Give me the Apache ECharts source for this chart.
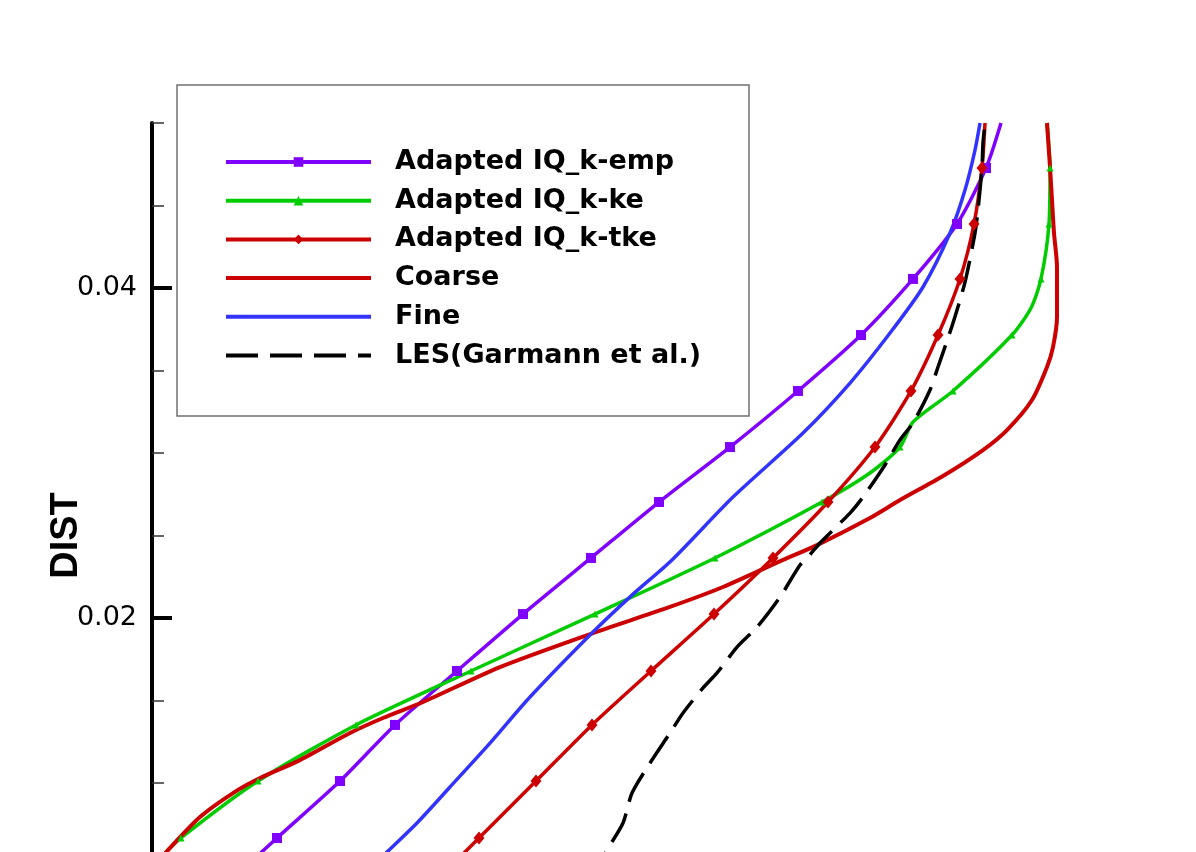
<!DOCTYPE html>
<html>
<head>
<meta charset="utf-8">
<script src="https://cdn.jsdelivr.net/npm/echarts@6/dist/echarts.min.js"></script>
<style>
  html, body { margin: 0; padding: 0; background: #fff; }
  #main { width: 1196px; height: 852px; }
</style>
</head>
<body>
<div id="main"></div>
<script>
// profile data: x = velocity (scaled), y = DIST
const empX = [0.079, 0.125, 0.188, 0.243, 0.305, 0.371, 0.439, 0.507, 0.578, 0.646, 0.709, 0.761, 0.805, 0.834, 0.849];
const empY = [0.00412, 0.00667, 0.01012, 0.01352, 0.01679, 0.02024, 0.02364, 0.02703, 0.03036, 0.03376, 0.03715, 0.04055, 0.04388, 0.04727, 0.05];

const keX = [0.006, 0.029, 0.106, 0.204, 0.319, 0.443, 0.563, 0.670, 0.718, 0.748, 0.761, 0.801, 0.860, 0.879, 0.889, 0.897, 0.898, 0.895];
const keY = [0.00533, 0.00667, 0.01012, 0.01352, 0.01679, 0.02024, 0.02364, 0.02703, 0.02879, 0.03036, 0.03188, 0.03376, 0.03715, 0.03879, 0.04055, 0.04388, 0.04727, 0.05];

const tkeX = [0.285, 0.327, 0.384, 0.440, 0.499, 0.562, 0.621, 0.676, 0.723, 0.759, 0.786, 0.808, 0.822, 0.830, 0.833];
const tkeY = [0.00412, 0.00667, 0.01012, 0.01352, 0.01679, 0.02024, 0.02364, 0.02703, 0.03036, 0.03376, 0.03715, 0.04055, 0.04388, 0.04727, 0.05];

const coarseX = [0.006, 0.016, 0.048, 0.081, 0.108, 0.148, 0.198, 0.231, 0.271, 0.348, 0.441, 0.515, 0.571, 0.631, 0.665, 0.718, 0.748, 0.791, 0.831, 0.855, 0.880, 0.895, 0.901, 0.905, 0.905, 0.902, 0.900, 0.898, 0.895];
const coarseY = [0.00521, 0.00594, 0.00794, 0.00939, 0.0103, 0.01139, 0.01303, 0.01394, 0.01491, 0.01703, 0.01909, 0.02061, 0.02188, 0.02352, 0.02442, 0.02606, 0.02715, 0.02861, 0.03018, 0.03139, 0.03321, 0.03521, 0.03642, 0.03824, 0.04127, 0.04333, 0.04533, 0.04733, 0.05];

const fineX = [0.206, 0.235, 0.265, 0.298, 0.338, 0.378, 0.441, 0.480, 0.520, 0.581, 0.651, 0.698, 0.738, 0.771, 0.798, 0.813, 0.823, 0.828];
const fineY = [0.00412, 0.00582, 0.00758, 0.00976, 0.01242, 0.01521, 0.01915, 0.02139, 0.02352, 0.02733, 0.03121, 0.03424, 0.03727, 0.04006, 0.04333, 0.04594, 0.04836, 0.05];

const lesX = [0.438, 0.455, 0.471, 0.480, 0.498, 0.518, 0.531, 0.551, 0.565, 0.585, 0.605, 0.628, 0.648, 0.656, 0.668, 0.698, 0.711, 0.731, 0.748, 0.761, 0.778, 0.786, 0.801, 0.813, 0.823, 0.826, 0.830, 0.831, 0.833];
const lesY = [0.00412, 0.00594, 0.00758, 0.00939, 0.01121, 0.01303, 0.01424, 0.01576, 0.01667, 0.01824, 0.01945, 0.02127, 0.02321, 0.0237, 0.02455, 0.02636, 0.02733, 0.02909, 0.03079, 0.03182, 0.03382, 0.03521, 0.03788, 0.04036, 0.04333, 0.04473, 0.04733, 0.04879, 0.05];

// DIST levels where the adapted profiles carry a symbol
const markerDist = [0.00667, 0.01012, 0.01352, 0.01679, 0.02024, 0.02364, 0.02703, 0.03036, 0.03376, 0.03715, 0.04055, 0.04388, 0.04727];

const majorTicks = [0.02, 0.04];
const minorTicks = [0.01, 0.015, 0.025, 0.03, 0.035, 0.045, 0.05];

const names = ['Adapted IQ_k-emp', 'Adapted IQ_k-ke', 'Adapted IQ_k-tke', 'Coarse', 'Fine', 'LES(Garmann et al.)'];
const plainLines = ['Coarse', 'Fine', 'LES(Garmann et al.)'];

const toPairs = (xs, ys, marked) => xs.map((x, i) => {
    const item = { value: [x, ys[i]] };
    if (!marked || markerDist.indexOf(ys[i]) < 0) item.symbol = 'none';
    return item;
});

var chartDom = document.getElementById('main');
var myChart = echarts.init(chartDom);
var option;

option = {
    animation: false,
    backgroundColor: '#fff',
    grid: { left: 152, right: 44, top: 123, bottom: 0 },
    graphic: [{
        type: 'rect',
        shape: { x: 177, y: 85, width: 572, height: 331 },
        style: { fill: 'none', stroke: '#707070', lineWidth: 1.5 },
        z: 1
    }],
    legend: {
        orient: 'vertical',
        left: 224,
        top: 148,
        padding: 0,
        itemWidth: 145,
        itemHeight: 12,
        itemGap: 10.7,
        selectedMode: false,
        lineStyle: { width: 4 },
        data: names.map(n => plainLines.indexOf(n) >= 0 ? { name: n, itemStyle: { opacity: 0 } } : n),
        textStyle: {
            fontFamily: 'DejaVu Sans',
            fontWeight: 'bold',
            fontSize: 27,
            lineHeight: 28,
            color: '#000',
            padding: [0, 0, 0, 19]
        }
    },
    xAxis: {
        type: 'value',
        min: 0,
        max: 1,
        show: false
    },
    yAxis: [{
        type: 'value',
        position: 'left',
        min: 0.00582,
        max: 0.05,
        name: 'DIST',
        nameLocation: 'middle',
        nameGap: 66,
        nameMoveOverlap: false,
        nameTextStyle: { fontFamily: 'Liberation Sans', fontWeight: 'bold', fontSize: 38, color: '#000', padding: [0, 96, 0, 0] },
        axisLine: { show: true, lineStyle: { color: '#000', width: 4 } },
        axisTick: { show: true, inside: true, length: 20, customValues: majorTicks, lineStyle: { color: '#000', width: 4 } },
        axisLabel: { show: true, margin: 15, customValues: majorTicks, fontFamily: 'DejaVu Sans', fontSize: 27, color: '#000' },
        splitLine: { show: false }
    }, {
        type: 'value',
        position: 'left',
        min: 0.00582,
        max: 0.05,
        axisLine: { show: false },
        axisTick: { show: true, inside: true, length: 12, customValues: minorTicks, lineStyle: { color: '#333', width: 1.5 } },
        axisLabel: { show: false },
        splitLine: { show: false }
    }],
    series: [
        {
            name: names[0], type: 'line', smooth: 0.25,
            data: toPairs(empX, empY, true),
            symbol: 'rect', symbolSize: 10,
            itemStyle: { color: '#8000ff' },
            lineStyle: { color: '#8000ff', width: 3.5 }
        },
        {
            name: names[1], type: 'line', smooth: 0.25,
            data: toPairs(keX, keY, true),
            symbol: 'triangle', symbolSize: 7,
            itemStyle: { color: '#00cc00' },
            lineStyle: { color: '#00cc00', width: 3.5 }
        },
        {
            name: names[2], type: 'line', smooth: 0.25,
            data: toPairs(tkeX, tkeY, true),
            symbol: 'diamond', symbolSize: [11, 13],
            itemStyle: { color: '#cc0000' },
            lineStyle: { color: '#cc0000', width: 3.5 }
        },
        {
            name: names[3], type: 'line', smooth: 0.25,
            data: toPairs(coarseX, coarseY, false),
            symbol: 'none',
            itemStyle: { color: '#cc0000' },
            lineStyle: { color: '#cc0000', width: 4 }
        },
        {
            name: names[4], type: 'line', smooth: 0.25,
            data: toPairs(fineX, fineY, false),
            symbol: 'none',
            itemStyle: { color: '#3333ff' },
            lineStyle: { color: '#3333ff', width: 3.5 }
        },
        {
            name: names[5], type: 'line', smooth: 0.25,
            data: toPairs(lesX, lesY, false),
            symbol: 'none',
            itemStyle: { color: '#000' },
            lineStyle: { color: '#000', width: 3.5, type: [32, 12] }
        }
    ]
};

option && myChart.setOption(option);
</script>
</body>
</html>
